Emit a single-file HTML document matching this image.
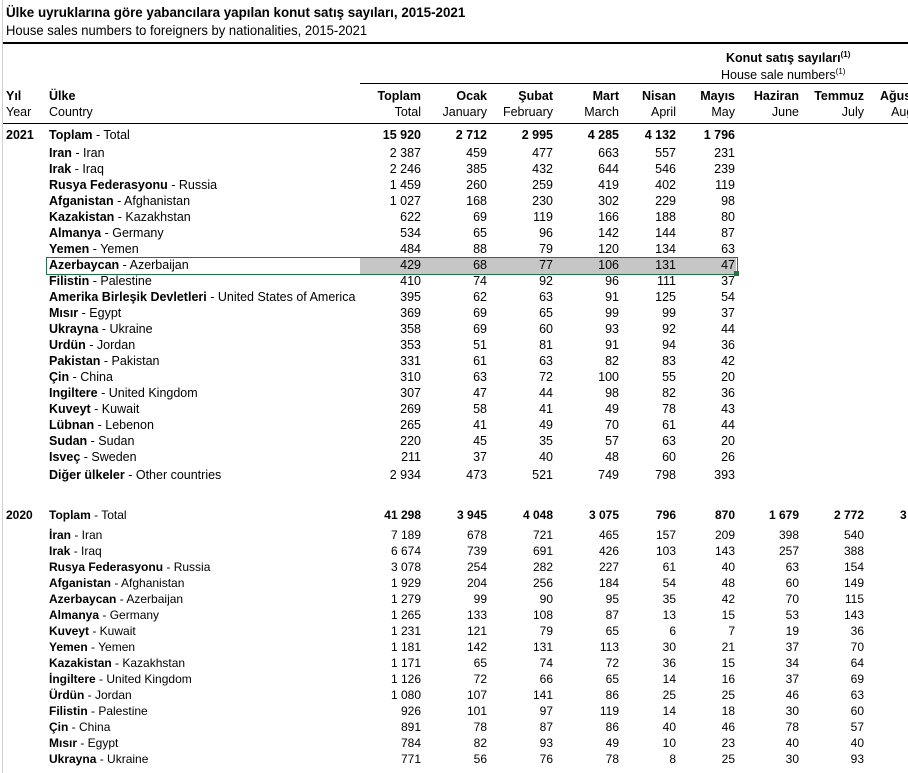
<!DOCTYPE html>
<html><head><meta charset="utf-8"><style>
body{margin:0;width:908px;height:773px;background:#fff;overflow:hidden;position:relative;font-family:"Liberation Sans Narrow","Liberation Sans",sans-serif;font-size:12.5px;color:#000}
.a{position:absolute;white-space:nowrap}
.r{position:absolute;left:0;width:960px;height:16px;line-height:16px}
.r span{position:absolute}
.r .y{left:6px;font-weight:bold}
.r .c{left:49px}
.r i{font-style:normal;position:absolute;width:80px;text-align:right}
.n1{left:341px}.n2{left:407px}.n3{left:473px}.n4{left:539px}.n5{left:596px}.n6{left:655px}.n7{left:719px}.n8{left:784px}.n9{left:850px}
.b{font-weight:bold}
.w{font-family:"Liberation Sans",sans-serif;font-size:12px}
.h{position:absolute;background:#000}
</style></head><body>
<div class="h" style="left:2px;top:0;width:1px;height:773px;background:#d0d0d0"></div>
<div class="a b" style="left:6px;top:4px;font-size:14px;transform:scaleX(0.955);transform-origin:0 0">Ülke uyruklarına göre yabancılara yapılan konut satış sayıları, 2015-2021</div>
<div class="a" style="left:6px;top:22px;font-size:14px;transform:scaleX(0.93);transform-origin:0 0">House sales numbers to foreigners by nationalities, 2015-2021</div>
<div class="h" style="left:3px;top:42px;width:905px;height:2px"></div>
<div class="a b" style="left:726px;top:50px">Konut satış sayıları<sup style="font-size:8px">(1)</sup></div>
<div class="a" style="left:721px;top:67px">House sale numbers<sup style="font-size:8px">(1)</sup></div>
<div class="h" style="left:360px;top:83px;width:548px;height:1px"></div>
<div class="r b" style="top:88px"><span style="left:6px">Yıl</span><span class="c">Ülke</span><i class="n1">Toplam</i><i class="n2">Ocak</i><i class="n3">Şubat</i><i class="n4">Mart</i><i class="n5">Nisan</i><i class="n6">Mayıs</i><i class="n7">Haziran</i><i class="n8">Temmuz</i><i class="n9">Ağustos</i></div>
<div class="r" style="top:104px"><span style="left:6px">Year</span><span class="c">Country</span><i class="n1">Total</i><i class="n2">January</i><i class="n3">February</i><i class="n4">March</i><i class="n5">April</i><i class="n6">May</i><i class="n7">June</i><i class="n8">July</i><i class="n9">August</i></div>
<div class="h" style="left:3px;top:123px;width:905px;height:1px"></div>
<div class="a" style="left:360px;top:258px;width:376px;height:16px;background:#c6c6c6"></div>
<div class="a" style="left:46px;top:257px;width:690px;height:16px;border:1px solid #217346"></div>
<div class="a" style="left:734px;top:271px;width:5px;height:5px;background:#217346"></div>
<div class="r b" style="top:127px"><span class="y">2021</span><span class="c">Toplam <b style="font-weight:normal">- Total</b></span><i class="n1">15 920</i><i class="n2">2 712</i><i class="n3">2 995</i><i class="n4">4 285</i><i class="n5">4 132</i><i class="n6">1 796</i></div>
<div class="r" style="top:145px"><span class="c"><b>Iran</b> - Iran</span><i class="n1">2 387</i><i class="n2">459</i><i class="n3">477</i><i class="n4">663</i><i class="n5">557</i><i class="n6">231</i></div>
<div class="r" style="top:161px"><span class="c"><b>Irak</b> - Iraq</span><i class="n1">2 246</i><i class="n2">385</i><i class="n3">432</i><i class="n4">644</i><i class="n5">546</i><i class="n6">239</i></div>
<div class="r" style="top:177px"><span class="c"><b>Rusya Federasyonu</b> - Russia</span><i class="n1">1 459</i><i class="n2">260</i><i class="n3">259</i><i class="n4">419</i><i class="n5">402</i><i class="n6">119</i></div>
<div class="r" style="top:193px"><span class="c"><b>Afganistan</b> - Afghanistan</span><i class="n1">1 027</i><i class="n2">168</i><i class="n3">230</i><i class="n4">302</i><i class="n5">229</i><i class="n6">98</i></div>
<div class="r" style="top:209px"><span class="c"><b>Kazakistan</b> - Kazakhstan</span><i class="n1">622</i><i class="n2">69</i><i class="n3">119</i><i class="n4">166</i><i class="n5">188</i><i class="n6">80</i></div>
<div class="r" style="top:225px"><span class="c"><b>Almanya</b> - Germany</span><i class="n1">534</i><i class="n2">65</i><i class="n3">96</i><i class="n4">142</i><i class="n5">144</i><i class="n6">87</i></div>
<div class="r" style="top:241px"><span class="c"><b>Yemen</b> - Yemen</span><i class="n1">484</i><i class="n2">88</i><i class="n3">79</i><i class="n4">120</i><i class="n5">134</i><i class="n6">63</i></div>
<div class="r" style="top:257px"><span class="c"><b>Azerbaycan</b> - Azerbaijan</span><i class="n1">429</i><i class="n2">68</i><i class="n3">77</i><i class="n4">106</i><i class="n5">131</i><i class="n6">47</i></div>
<div class="r" style="top:273px"><span class="c"><b>Filistin</b> - Palestine</span><i class="n1">410</i><i class="n2">74</i><i class="n3">92</i><i class="n4">96</i><i class="n5">111</i><i class="n6">37</i></div>
<div class="r" style="top:289px"><span class="c"><b>Amerika Birleşik Devletleri</b> - United States of America</span><i class="n1">395</i><i class="n2">62</i><i class="n3">63</i><i class="n4">91</i><i class="n5">125</i><i class="n6">54</i></div>
<div class="r" style="top:305px"><span class="c"><b>Mısır</b> - Egypt</span><i class="n1">369</i><i class="n2">69</i><i class="n3">65</i><i class="n4">99</i><i class="n5">99</i><i class="n6">37</i></div>
<div class="r" style="top:321px"><span class="c"><b>Ukrayna</b> - Ukraine</span><i class="n1">358</i><i class="n2">69</i><i class="n3">60</i><i class="n4">93</i><i class="n5">92</i><i class="n6">44</i></div>
<div class="r" style="top:337px"><span class="c"><b>Urdün</b> - Jordan</span><i class="n1">353</i><i class="n2">51</i><i class="n3">81</i><i class="n4">91</i><i class="n5">94</i><i class="n6">36</i></div>
<div class="r" style="top:353px"><span class="c"><b>Pakistan</b> - Pakistan</span><i class="n1">331</i><i class="n2">61</i><i class="n3">63</i><i class="n4">82</i><i class="n5">83</i><i class="n6">42</i></div>
<div class="r" style="top:369px"><span class="c"><b>Çin</b> - China</span><i class="n1">310</i><i class="n2">63</i><i class="n3">72</i><i class="n4">100</i><i class="n5">55</i><i class="n6">20</i></div>
<div class="r" style="top:385px"><span class="c"><b>Ingiltere</b> - United Kingdom</span><i class="n1">307</i><i class="n2">47</i><i class="n3">44</i><i class="n4">98</i><i class="n5">82</i><i class="n6">36</i></div>
<div class="r" style="top:401px"><span class="c"><b>Kuveyt</b> - Kuwait</span><i class="n1">269</i><i class="n2">58</i><i class="n3">41</i><i class="n4">49</i><i class="n5">78</i><i class="n6">43</i></div>
<div class="r" style="top:417px"><span class="c"><b>Lübnan</b> - Lebenon</span><i class="n1">265</i><i class="n2">41</i><i class="n3">49</i><i class="n4">70</i><i class="n5">61</i><i class="n6">44</i></div>
<div class="r" style="top:433px"><span class="c"><b>Sudan</b> - Sudan</span><i class="n1">220</i><i class="n2">45</i><i class="n3">35</i><i class="n4">57</i><i class="n5">63</i><i class="n6">20</i></div>
<div class="r" style="top:449px"><span class="c"><b>Isveç</b> - Sweden</span><i class="n1">211</i><i class="n2">37</i><i class="n3">40</i><i class="n4">48</i><i class="n5">60</i><i class="n6">26</i></div>
<div class="r" style="top:467px"><span class="c"><b>Diğer ülkeler</b> - Other countries</span><i class="n1">2 934</i><i class="n2">473</i><i class="n3">521</i><i class="n4">749</i><i class="n5">798</i><i class="n6">393</i></div>

<div class="r b w" style="top:507px"><span class="y">2020</span><span class="c">Toplam <b style="font-weight:normal">- Total</b></span><i class="n1">41 298</i><i class="n2">3 945</i><i class="n3">4 048</i><i class="n4">3 075</i><i class="n5">796</i><i class="n6">870</i><i class="n7">1 679</i><i class="n8">2 772</i></div>
<div class="a b w" style="left:900px;top:507px;line-height:16px">3</div>
<div class="r w" style="top:527px"><span class="c"><b>İran</b> - Iran</span><i class="n1">7 189</i><i class="n2">678</i><i class="n3">721</i><i class="n4">465</i><i class="n5">157</i><i class="n6">209</i><i class="n7">398</i><i class="n8">540</i></div>
<div class="r w" style="top:543px"><span class="c"><b>Irak</b> - Iraq</span><i class="n1">6 674</i><i class="n2">739</i><i class="n3">691</i><i class="n4">426</i><i class="n5">103</i><i class="n6">143</i><i class="n7">257</i><i class="n8">388</i></div>
<div class="r w" style="top:559px"><span class="c"><b>Rusya Federasyonu</b> - Russia</span><i class="n1">3 078</i><i class="n2">254</i><i class="n3">282</i><i class="n4">227</i><i class="n5">61</i><i class="n6">40</i><i class="n7">63</i><i class="n8">154</i></div>
<div class="r w" style="top:575px"><span class="c"><b>Afganistan</b> - Afghanistan</span><i class="n1">1 929</i><i class="n2">204</i><i class="n3">256</i><i class="n4">184</i><i class="n5">54</i><i class="n6">48</i><i class="n7">60</i><i class="n8">149</i></div>
<div class="r w" style="top:591px"><span class="c"><b>Azerbaycan</b> - Azerbaijan</span><i class="n1">1 279</i><i class="n2">99</i><i class="n3">90</i><i class="n4">95</i><i class="n5">35</i><i class="n6">42</i><i class="n7">70</i><i class="n8">115</i></div>
<div class="r w" style="top:607px"><span class="c"><b>Almanya</b> - Germany</span><i class="n1">1 265</i><i class="n2">133</i><i class="n3">108</i><i class="n4">87</i><i class="n5">13</i><i class="n6">15</i><i class="n7">53</i><i class="n8">143</i></div>
<div class="r w" style="top:623px"><span class="c"><b>Kuveyt</b> - Kuwait</span><i class="n1">1 231</i><i class="n2">121</i><i class="n3">79</i><i class="n4">65</i><i class="n5">6</i><i class="n6">7</i><i class="n7">19</i><i class="n8">36</i></div>
<div class="r w" style="top:639px"><span class="c"><b>Yemen</b> - Yemen</span><i class="n1">1 181</i><i class="n2">142</i><i class="n3">131</i><i class="n4">113</i><i class="n5">30</i><i class="n6">21</i><i class="n7">37</i><i class="n8">70</i></div>
<div class="r w" style="top:655px"><span class="c"><b>Kazakistan</b> - Kazakhstan</span><i class="n1">1 171</i><i class="n2">65</i><i class="n3">74</i><i class="n4">72</i><i class="n5">36</i><i class="n6">15</i><i class="n7">34</i><i class="n8">64</i></div>
<div class="r w" style="top:671px"><span class="c"><b>İngiltere</b> - United Kingdom</span><i class="n1">1 126</i><i class="n2">72</i><i class="n3">66</i><i class="n4">65</i><i class="n5">14</i><i class="n6">16</i><i class="n7">37</i><i class="n8">69</i></div>
<div class="r w" style="top:687px"><span class="c"><b>Ürdün</b> - Jordan</span><i class="n1">1 080</i><i class="n2">107</i><i class="n3">141</i><i class="n4">86</i><i class="n5">25</i><i class="n6">25</i><i class="n7">46</i><i class="n8">63</i></div>
<div class="r w" style="top:703px"><span class="c"><b>Filistin</b> - Palestine</span><i class="n1">926</i><i class="n2">101</i><i class="n3">97</i><i class="n4">119</i><i class="n5">14</i><i class="n6">18</i><i class="n7">30</i><i class="n8">60</i></div>
<div class="r w" style="top:719px"><span class="c"><b>Çin</b> - China</span><i class="n1">891</i><i class="n2">78</i><i class="n3">87</i><i class="n4">86</i><i class="n5">40</i><i class="n6">46</i><i class="n7">78</i><i class="n8">57</i></div>
<div class="r w" style="top:735px"><span class="c"><b>Mısır</b> - Egypt</span><i class="n1">784</i><i class="n2">82</i><i class="n3">93</i><i class="n4">49</i><i class="n5">10</i><i class="n6">23</i><i class="n7">40</i><i class="n8">40</i></div>
<div class="r w" style="top:751px"><span class="c"><b>Ukrayna</b> - Ukraine</span><i class="n1">771</i><i class="n2">56</i><i class="n3">76</i><i class="n4">78</i><i class="n5">8</i><i class="n6">25</i><i class="n7">30</i><i class="n8">93</i></div>
</body></html>
